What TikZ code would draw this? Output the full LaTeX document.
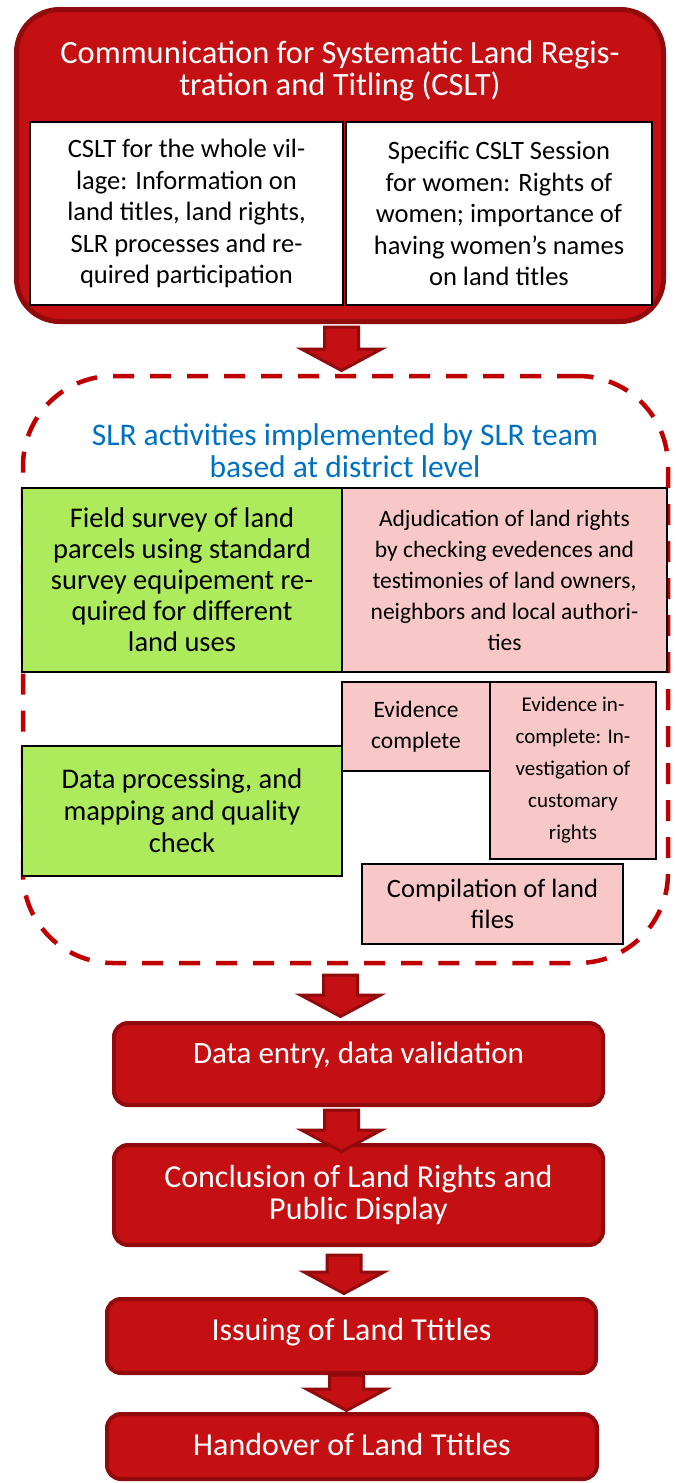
\documentclass[tikz,border=0pt]{standalone}
\usepackage{fontspec}
\setmainfont{Carlito}
\usepackage{tikz}
\usetikzlibrary{calc}

\definecolor{slrred}{RGB}{196,16,18}
\definecolor{slrdark}{RGB}{145,10,12}
\definecolor{slrdash}{RGB}{192,0,0}
\definecolor{slrgreen}{RGB}{173,235,92}
\definecolor{slrpink}{RGB}{248,200,200}
\definecolor{slrblue}{RGB}{0,112,192}

\newcommand{\fs}[2]{\fontsize{#1}{#2}\selectfont}
% block arrow from a start point down to a tip
\newcommand{\flowarrow}[2]{%
  \filldraw[blockarrow] let \p1=(#1), \p2=(#2) in
    (\x1-17pt,\y1) -- (\x1+17pt,\y1) -- (\x1+17pt,\y2+23pt) -- (\x1+40pt,\y2+23pt)
    -- (\x1,\y2+1.5pt) -- (\x1-40pt,\y2+23pt) -- (\x1-17pt,\y2+23pt) -- cycle;}

\begin{document}
\begin{tikzpicture}[x=1pt,y=-1pt,
  redbox/.style={draw=slrdark, fill=slrred, line width=4pt, rounded corners=14pt,
    text=white, align=center, outer sep=0pt, inner sep=0pt},
  whitebox/.style={draw=black, fill=white, line width=1.2pt, align=center,
    outer sep=0pt, inner sep=0pt},
  greenbox/.style={whitebox, fill=slrgreen},
  pinkbox/.style={whitebox, fill=slrpink},
  blockarrow/.style={draw=slrdark, fill=slrred, line width=3pt, line join=miter}]
\useasboundingbox (0,0) rectangle (675,1483);

    % communication
    \node[redbox, line width=5pt, rounded corners=43pt, minimum width=647pt,
      minimum height=312pt] (cslt) at (340,165.5) {};
    \node[text=white, align=center, font=\fs{32.5}{32}] (title) at (340,71)
      {Communication for Systematic Land Regis-\\tration and Titling (CSLT)};
    \node[whitebox, minimum width=313pt, minimum height=183pt, font=\fs{26.5}{31.5}]
      (village) at (186.5,213.5) {CSLT for the whole vil-\\lage: Information on\\land titles, land rights,\\SLR processes and re-\\quired participation};
    \node[whitebox, minimum width=306pt, minimum height=183pt, font=\fs{26.5}{31.5}]
      (women) at (499,213.5) {Specific CSLT Session\\for women: Rights of\\women; importance of\\having women's names\\on land titles};

    % SLR team frame
    \node[draw=slrdash, line width=4.5pt, dash pattern=on 21pt off 16pt, rounded corners=90pt,
      outer sep=0pt, minimum width=645pt, minimum height=587pt] (slr) at (345.5,669.5) {};
    \node[text=slrblue, align=center, font=\fs{31.5}{32}] (team) at (345,451)
      {SLR activities implemented by SLR team\\based at district level};
    \node[greenbox, minimum width=320pt, minimum height=184pt, font=\fs{28.5}{31}]
      (survey) at (182,580) {Field survey of land\\parcels using standard\\survey equipement re-\\quired for different\\land uses};
    \node[pinkbox, minimum width=325pt, minimum height=184pt, font=\fs{23.5}{31}]
      (adjud) at (504.5,580) {Adjudication of land rights\\by checking evedences and\\testimonies of land owners,\\neighbors and local authori-\\ties};
    \node[pinkbox, minimum width=148pt, minimum height=89pt, font=\fs{23.5}{31}]
      (evcomp) at (416,726.5) {Evidence\\complete};
    \node[pinkbox, minimum width=166pt, minimum height=177pt, font=\fs{21}{32}]
      (evinc) at (573,770.5) {Evidence in-\\complete: In-\\vestigation of\\customary\\rights};
    \node[greenbox, minimum width=320pt, minimum height=130pt, font=\fs{28.5}{32}]
      (dataproc) at (182,811) {Data processing, and\\mapping and quality\\check};
    \node[pinkbox, minimum width=261pt, minimum height=80pt, font=\fs{26.5}{31}]
      (compil) at (492.5,904) {Compilation of land\\files};

    % steps
    \node[redbox, minimum width=489pt, minimum height=82pt, font=\fs{31}{32},
      text height=22pt, text depth=24pt] (entry) at (358.5,1064) {Data entry, data validation};
    \node[redbox, minimum width=489pt, minimum height=100pt, font=\fs{32}{32}]
      (concl) at (358.5,1195) {Conclusion of Land Rights and\\Public Display};
    \node[redbox, minimum width=489pt, minimum height=74pt, font=\fs{32}{32},
      text height=22pt, text depth=14pt] (issue) at (351.5,1336) {Issuing of Land Ttitles};
    \node[redbox, minimum width=490pt, minimum height=65pt, font=\fs{32}{32},
      text height=22pt, text depth=4pt] (handover) at (352,1446.5) {Handover of Land Ttitles};

    % arrows
    \flowarrow{[xshift=1.5pt,yshift=-5.5pt]cslt.south}{[yshift=4pt]slr.north}
    \flowarrow{[xshift=-5pt,yshift=-12pt]slr.south}{[yshift=5pt]entry.north}
    \flowarrow{[xshift=-17pt,yshift=-5pt]entry.south}{[yshift=-8pt]concl.north}
    \flowarrow{[xshift=-14.5pt,yshift=-10pt]concl.south}{[yshift=4pt]issue.north}
    \flowarrow{[xshift=-5pt,yshift=-2pt]issue.south}{[yshift=2pt]handover.north}
\end{tikzpicture}
\end{document}
